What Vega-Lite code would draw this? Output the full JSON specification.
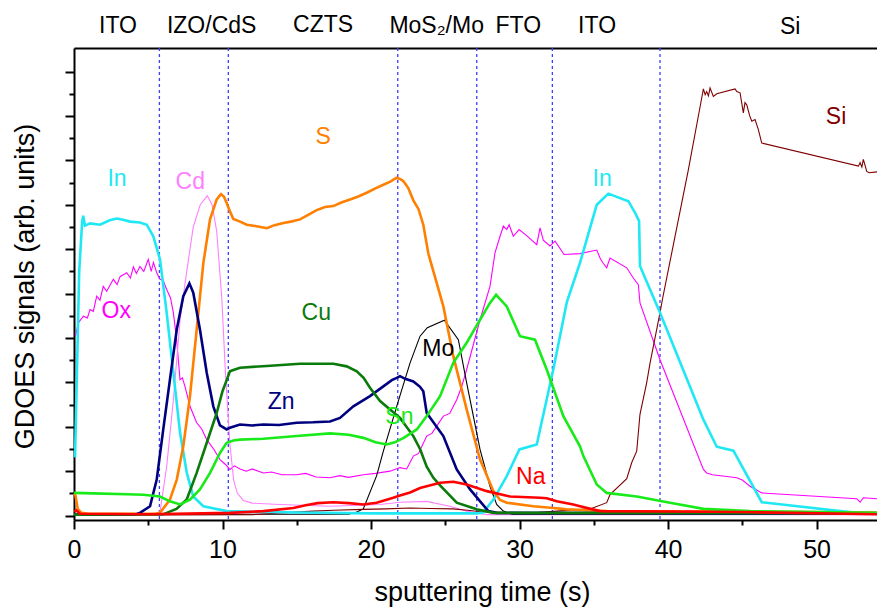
{
  "$schema": "https://vega.github.io/schema/vega-lite/v6.json",
  "width": 803,
  "height": 472,
  "autosize": {"type": "none"},
  "padding": {"left": 74, "top": 48, "right": 0, "bottom": 87},
  "config": {"view": {"stroke": null}, "font": "Liberation Sans"},
  "datasets": {
    "curves": [
      {"s":"In","x":0.07,"y":1.31},{"s":"In","x":0.35,"y":5.5},{"s":"In","x":0.55,"y":6.62},{"s":"In","x":0.62,"y":6.75},{"s":"In","x":0.74,"y":6.53},{"s":"In","x":1.08,"y":6.58},{"s":"In","x":1.75,"y":6.55},{"s":"In","x":2.4,"y":6.65},{"s":"In","x":2.88,"y":6.69},{"s":"In","x":3.3,"y":6.66},{"s":"In","x":3.77,"y":6.62},{"s":"In","x":4.44,"y":6.6},{"s":"In","x":4.9,"y":6.55},{"s":"In","x":5.34,"y":6.29},{"s":"In","x":5.79,"y":5.77},{"s":"In","x":6.24,"y":4.57},{"s":"In","x":6.69,"y":3.22},{"s":"In","x":7.14,"y":1.87},{"s":"In","x":7.59,"y":0.97},{"s":"In","x":8.03,"y":0.43},{"s":"In","x":8.71,"y":0.21},{"s":"In","x":10.28,"y":0.1},{"s":"In","x":15,"y":0.07},{"s":"In","x":20,"y":0.05},{"s":"In","x":27.12,"y":0.05},{"s":"In","x":27.56,"y":0.07},{"s":"In","x":28.24,"y":0.36},{"s":"In","x":29.14,"y":0.89},{"s":"In","x":29.99,"y":1.49},{"s":"In","x":31.16,"y":1.6},{"s":"In","x":32.28,"y":3.3},{"s":"In","x":33.18,"y":4.8},{"s":"In","x":34.07,"y":5.69},{"s":"In","x":35.2,"y":7.0},{"s":"In","x":35.98,"y":7.25},{"s":"In","x":37.33,"y":7.08},{"s":"In","x":37.78,"y":6.82},{"s":"In","x":38.05,"y":6.63},{"s":"In","x":38.11,"y":5.62},{"s":"In","x":39.46,"y":4.57},{"s":"In","x":42.38,"y":2.16},{"s":"In","x":43.28,"y":1.55},{"s":"In","x":44.4,"y":1.46},{"s":"In","x":46.31,"y":0.3},{"s":"In","x":52.71,"y":0.06},{"s":"In","x":54.07,"y":0.05},

      {"s":"Ox","x":0.1,"y":4.04},{"s":"Ox","x":0.29,"y":4.34},{"s":"Ox","x":0.63,"y":4.49},{"s":"Ox","x":0.9,"y":4.45},{"s":"Ox","x":1.08,"y":4.64},{"s":"Ox","x":1.3,"y":4.6},{"s":"Ox","x":1.53,"y":4.94},{"s":"Ox","x":1.75,"y":4.85},{"s":"Ox","x":1.97,"y":5.16},{"s":"Ox","x":2.2,"y":5.05},{"s":"Ox","x":2.65,"y":5.32},{"s":"Ox","x":2.9,"y":5.2},{"s":"Ox","x":3.1,"y":5.38},{"s":"Ox","x":3.55,"y":5.47},{"s":"Ox","x":3.8,"y":5.35},{"s":"Ox","x":4.0,"y":5.6},{"s":"Ox","x":4.2,"y":5.45},{"s":"Ox","x":4.44,"y":5.61},{"s":"Ox","x":4.7,"y":5.5},{"s":"Ox","x":5.0,"y":5.77},{"s":"Ox","x":5.2,"y":5.5},{"s":"Ox","x":5.35,"y":5.7},{"s":"Ox","x":5.57,"y":5.47},{"s":"Ox","x":5.79,"y":5.32},{"s":"Ox","x":6.0,"y":5.3},{"s":"Ox","x":6.24,"y":5.09},{"s":"Ox","x":6.5,"y":4.9},{"s":"Ox","x":6.69,"y":4.57},{"s":"Ox","x":6.9,"y":4.0},{"s":"Ox","x":7.14,"y":3.06},{"s":"Ox","x":7.3,"y":3.1},{"s":"Ox","x":7.47,"y":2.91},{"s":"Ox","x":7.81,"y":2.46},{"s":"Ox","x":8.26,"y":2.09},{"s":"Ox","x":8.6,"y":1.95},{"s":"Ox","x":8.94,"y":1.71},{"s":"Ox","x":9.4,"y":1.5},{"s":"Ox","x":9.83,"y":1.26},{"s":"Ox","x":10.2,"y":1.15},{"s":"Ox","x":10.5,"y":1.04},{"s":"Ox","x":10.8,"y":1.12},{"s":"Ox","x":11.18,"y":1.05},{"s":"Ox","x":11.6,"y":1.0},{"s":"Ox","x":12.0,"y":1.05},{"s":"Ox","x":12.75,"y":0.96},{"s":"Ox","x":13.3,"y":0.98},{"s":"Ox","x":14.0,"y":0.92},{"s":"Ox","x":15.0,"y":0.92},{"s":"Ox","x":15.6,"y":0.95},{"s":"Ox","x":16.3,"y":0.87},{"s":"Ox","x":17.24,"y":0.85},{"s":"Ox","x":17.9,"y":0.9},{"s":"Ox","x":18.5,"y":0.86},{"s":"Ox","x":19.48,"y":0.92},{"s":"Ox","x":20.3,"y":0.95},{"s":"Ox","x":21.28,"y":1.0},{"s":"Ox","x":21.95,"y":1.08},{"s":"Ox","x":22.4,"y":1.05},{"s":"Ox","x":22.85,"y":1.34},{"s":"Ox","x":23.2,"y":1.4},{"s":"Ox","x":23.75,"y":1.79},{"s":"Ox","x":24.1,"y":1.85},{"s":"Ox","x":24.87,"y":2.24},{"s":"Ox","x":25.3,"y":2.3},{"s":"Ox","x":25.77,"y":2.61},{"s":"Ox","x":26.1,"y":2.9},{"s":"Ox","x":26.44,"y":3.29},{"s":"Ox","x":27.34,"y":4.41},{"s":"Ox","x":28.01,"y":5.16},{"s":"Ox","x":28.35,"y":5.92},{"s":"Ox","x":28.69,"y":6.29},{"s":"Ox","x":28.91,"y":6.52},{"s":"Ox","x":29.14,"y":6.44},{"s":"Ox","x":29.3,"y":6.55},{"s":"Ox","x":29.58,"y":6.29},{"s":"Ox","x":29.97,"y":6.44},{"s":"Ox","x":30.5,"y":6.3},{"s":"Ox","x":31.16,"y":6.1},{"s":"Ox","x":31.38,"y":6.48},{"s":"Ox","x":31.6,"y":6.2},{"s":"Ox","x":32.05,"y":6.07},{"s":"Ox","x":32.39,"y":6.18},{"s":"Ox","x":33.0,"y":5.88},{"s":"Ox","x":34.07,"y":5.9},{"s":"Ox","x":35.2,"y":5.98},{"s":"Ox","x":35.42,"y":5.8},{"s":"Ox","x":35.6,"y":5.7},{"s":"Ox","x":35.87,"y":5.58},{"s":"Ox","x":36.09,"y":5.8},{"s":"Ox","x":37.22,"y":5.58},{"s":"Ox","x":37.66,"y":5.35},{"s":"Ox","x":38.0,"y":5.2},{"s":"Ox","x":38.11,"y":4.79},{"s":"Ox","x":39.46,"y":3.51},{"s":"Ox","x":42.38,"y":1.04},{"s":"Ox","x":42.6,"y":0.96},{"s":"Ox","x":43.0,"y":0.92},{"s":"Ox","x":44.63,"y":0.85},{"s":"Ox","x":45.0,"y":0.8},{"s":"Ox","x":45.52,"y":0.66},{"s":"Ox","x":46.31,"y":0.51},{"s":"Ox","x":52.71,"y":0.38},{"s":"Ox","x":52.93,"y":0.3},{"s":"Ox","x":53.15,"y":0.4},{"s":"Ox","x":54.07,"y":0.38},

      {"s":"Cd","x":0,"y":0.02},{"s":"Cd","x":5.5,"y":0.03},{"s":"Cd","x":5.8,"y":0.1},{"s":"Cd","x":6.24,"y":1.1},{"s":"Cd","x":6.69,"y":2.6},{"s":"Cd","x":7.14,"y":4.4},{"s":"Cd","x":7.59,"y":5.5},{"s":"Cd","x":8.03,"y":6.5},{"s":"Cd","x":8.5,"y":7.0},{"s":"Cd","x":8.98,"y":7.2},{"s":"Cd","x":9.3,"y":7.0},{"s":"Cd","x":9.61,"y":6.4},{"s":"Cd","x":9.95,"y":4.9},{"s":"Cd","x":10.2,"y":3.2},{"s":"Cd","x":10.5,"y":1.6},{"s":"Cd","x":10.75,"y":0.8},{"s":"Cd","x":11.0,"y":0.5},{"s":"Cd","x":11.4,"y":0.34},{"s":"Cd","x":12,"y":0.28},{"s":"Cd","x":13.87,"y":0.25},{"s":"Cd","x":17.24,"y":0.21},{"s":"Cd","x":20.6,"y":0.25},{"s":"Cd","x":21.95,"y":0.3},{"s":"Cd","x":23.75,"y":0.32},{"s":"Cd","x":25.3,"y":0.21},{"s":"Cd","x":26.44,"y":0.1},{"s":"Cd","x":27.8,"y":0.02},{"s":"Cd","x":54.07,"y":0.02},

      {"s":"S","x":0.0,"y":0.5},{"s":"S","x":0.1,"y":0.45},{"s":"S","x":0.25,"y":0.15},{"s":"S","x":0.5,"y":0.06},{"s":"S","x":1,"y":0.04},{"s":"S","x":5.5,"y":0.04},{"s":"S","x":5.79,"y":0.06},{"s":"S","x":6.46,"y":0.36},{"s":"S","x":6.92,"y":0.81},{"s":"S","x":7.36,"y":1.56},{"s":"S","x":7.81,"y":2.69},{"s":"S","x":8.26,"y":4.19},{"s":"S","x":8.71,"y":5.69},{"s":"S","x":9.16,"y":6.67},{"s":"S","x":9.61,"y":7.12},{"s":"S","x":9.9,"y":7.24},{"s":"S","x":10.1,"y":7.18},{"s":"S","x":10.28,"y":7.04},{"s":"S","x":10.5,"y":6.85},{"s":"S","x":10.73,"y":6.68},{"s":"S","x":11.18,"y":6.62},{"s":"S","x":11.63,"y":6.55},{"s":"S","x":12.2,"y":6.52},{"s":"S","x":12.98,"y":6.47},{"s":"S","x":13.5,"y":6.54},{"s":"S","x":14.1,"y":6.59},{"s":"S","x":14.6,"y":6.62},{"s":"S","x":15.22,"y":6.67},{"s":"S","x":15.8,"y":6.78},{"s":"S","x":16.34,"y":6.88},{"s":"S","x":16.9,"y":6.95},{"s":"S","x":17.46,"y":6.97},{"s":"S","x":18.0,"y":7.05},{"s":"S","x":18.59,"y":7.12},{"s":"S","x":19.1,"y":7.18},{"s":"S","x":19.71,"y":7.27},{"s":"S","x":20.3,"y":7.37},{"s":"S","x":20.83,"y":7.45},{"s":"S","x":21.3,"y":7.52},{"s":"S","x":21.73,"y":7.61},{"s":"S","x":22.0,"y":7.57},{"s":"S","x":22.18,"y":7.53},{"s":"S","x":22.5,"y":7.38},{"s":"S","x":22.85,"y":7.1},{"s":"S","x":23.2,"y":6.9},{"s":"S","x":23.52,"y":6.55},{"s":"S","x":23.86,"y":5.9},{"s":"S","x":24.42,"y":5.24},{"s":"S","x":24.87,"y":4.71},{"s":"S","x":25.54,"y":3.59},{"s":"S","x":26.44,"y":2.39},{"s":"S","x":27.34,"y":1.26},{"s":"S","x":27.8,"y":0.9},{"s":"S","x":28.24,"y":0.55},{"s":"S","x":28.69,"y":0.35},{"s":"S","x":29.14,"y":0.29},{"s":"S","x":30.93,"y":0.21},{"s":"S","x":32.28,"y":0.17},{"s":"S","x":33.18,"y":0.14},{"s":"S","x":35.87,"y":0.1},{"s":"S","x":54.07,"y":0.07},

      {"s":"Zn","x":0,"y":0.02},{"s":"Zn","x":4.2,"y":0.03},{"s":"Zn","x":4.44,"y":0.06},{"s":"Zn","x":5.12,"y":0.21},{"s":"Zn","x":5.57,"y":0.81},{"s":"Zn","x":6.01,"y":1.94},{"s":"Zn","x":6.46,"y":3.06},{"s":"Zn","x":6.92,"y":4.19},{"s":"Zn","x":7.36,"y":4.94},{"s":"Zn","x":7.77,"y":5.23},{"s":"Zn","x":8.03,"y":5.02},{"s":"Zn","x":8.48,"y":4.19},{"s":"Zn","x":8.94,"y":3.21},{"s":"Zn","x":9.38,"y":2.46},{"s":"Zn","x":9.83,"y":2.03},{"s":"Zn","x":10.28,"y":1.94},{"s":"Zn","x":10.5,"y":1.98},{"s":"Zn","x":11.18,"y":2.05},{"s":"Zn","x":12.0,"y":2.03},{"s":"Zn","x":12.75,"y":2.05},{"s":"Zn","x":13.8,"y":2.04},{"s":"Zn","x":15.0,"y":2.09},{"s":"Zn","x":16.1,"y":2.1},{"s":"Zn","x":17.24,"y":2.12},{"s":"Zn","x":17.91,"y":2.2},{"s":"Zn","x":18.81,"y":2.46},{"s":"Zn","x":19.93,"y":2.69},{"s":"Zn","x":20.83,"y":2.91},{"s":"Zn","x":21.4,"y":3.05},{"s":"Zn","x":21.73,"y":3.1},{"s":"Zn","x":21.95,"y":3.14},{"s":"Zn","x":22.3,"y":3.08},{"s":"Zn","x":22.85,"y":3.02},{"s":"Zn","x":23.3,"y":2.9},{"s":"Zn","x":23.52,"y":2.8},{"s":"Zn","x":23.75,"y":2.31},{"s":"Zn","x":24.87,"y":1.79},{"s":"Zn","x":25.77,"y":1.04},{"s":"Zn","x":26.67,"y":0.59},{"s":"Zn","x":27.9,"y":0.1},{"s":"Zn","x":28.46,"y":0.06},{"s":"Zn","x":54.07,"y":0.04},

      {"s":"Cu","x":0,"y":0.02},{"s":"Cu","x":6.0,"y":0.03},{"s":"Cu","x":6.24,"y":0.06},{"s":"Cu","x":6.9,"y":0.15},{"s":"Cu","x":7.59,"y":0.36},{"s":"Cu","x":8.26,"y":0.96},{"s":"Cu","x":8.94,"y":1.64},{"s":"Cu","x":9.61,"y":2.31},{"s":"Cu","x":10.0,"y":2.8},{"s":"Cu","x":10.28,"y":3.05},{"s":"Cu","x":10.5,"y":3.25},{"s":"Cu","x":10.73,"y":3.28},{"s":"Cu","x":11.18,"y":3.33},{"s":"Cu","x":12.98,"y":3.37},{"s":"Cu","x":15.22,"y":3.42},{"s":"Cu","x":17.46,"y":3.42},{"s":"Cu","x":18.36,"y":3.36},{"s":"Cu","x":19.04,"y":3.25},{"s":"Cu","x":19.5,"y":3.1},{"s":"Cu","x":19.93,"y":2.88},{"s":"Cu","x":20.61,"y":2.58},{"s":"Cu","x":21.28,"y":2.39},{"s":"Cu","x":21.95,"y":2.2},{"s":"Cu","x":22.85,"y":1.79},{"s":"Cu","x":23.3,"y":1.5},{"s":"Cu","x":23.75,"y":1.1},{"s":"Cu","x":24.2,"y":0.85},{"s":"Cu","x":24.65,"y":0.68},{"s":"Cu","x":25.77,"y":0.29},{"s":"Cu","x":27.12,"y":0.14},{"s":"Cu","x":28.24,"y":0.06},{"s":"Cu","x":54.07,"y":0.05},

      {"s":"Sn","x":0,"y":0.51},{"s":"Sn","x":1.3,"y":0.5},{"s":"Sn","x":3.55,"y":0.48},{"s":"Sn","x":4.67,"y":0.47},{"s":"Sn","x":5.79,"y":0.43},{"s":"Sn","x":6.46,"y":0.32},{"s":"Sn","x":7.14,"y":0.25},{"s":"Sn","x":7.81,"y":0.36},{"s":"Sn","x":8.48,"y":0.59},{"s":"Sn","x":9.16,"y":0.96},{"s":"Sn","x":9.83,"y":1.41},{"s":"Sn","x":10.28,"y":1.64},{"s":"Sn","x":10.73,"y":1.69},{"s":"Sn","x":11.18,"y":1.71},{"s":"Sn","x":12.75,"y":1.73},{"s":"Sn","x":15.0,"y":1.79},{"s":"Sn","x":17.24,"y":1.85},{"s":"Sn","x":18.5,"y":1.82},{"s":"Sn","x":19.48,"y":1.75},{"s":"Sn","x":20.3,"y":1.65},{"s":"Sn","x":21.06,"y":1.6},{"s":"Sn","x":21.6,"y":1.65},{"s":"Sn","x":22.2,"y":1.75},{"s":"Sn","x":23.08,"y":1.94},{"s":"Sn","x":23.75,"y":2.24},{"s":"Sn","x":24.65,"y":2.69},{"s":"Sn","x":25.54,"y":3.44},{"s":"Sn","x":26.44,"y":3.89},{"s":"Sn","x":27.34,"y":4.41},{"s":"Sn","x":28.01,"y":4.79},{"s":"Sn","x":28.42,"y":4.97},{"s":"Sn","x":29.14,"y":4.71},{"s":"Sn","x":30.03,"y":4.04},{"s":"Sn","x":31.04,"y":3.96},{"s":"Sn","x":31.83,"y":3.29},{"s":"Sn","x":32.95,"y":2.24},{"s":"Sn","x":34.07,"y":1.56},{"s":"Sn","x":34.3,"y":1.34},{"s":"Sn","x":35.2,"y":0.7},{"s":"Sn","x":35.87,"y":0.51},{"s":"Sn","x":37.89,"y":0.43},{"s":"Sn","x":40.13,"y":0.29},{"s":"Sn","x":42.38,"y":0.15},{"s":"Sn","x":45.52,"y":0.1},{"s":"Sn","x":54.07,"y":0.06},

      {"s":"Mo","x":0,"y":0.03},{"s":"Mo","x":18.5,"y":0.03},{"s":"Mo","x":19.04,"y":0.08},{"s":"Mo","x":19.48,"y":0.15},{"s":"Mo","x":20.38,"y":0.9},{"s":"Mo","x":20.83,"y":1.45},{"s":"Mo","x":21.5,"y":2.2},{"s":"Mo","x":21.95,"y":2.7},{"s":"Mo","x":22.63,"y":3.44},{"s":"Mo","x":23.3,"y":4.04},{"s":"Mo","x":23.79,"y":4.23},{"s":"Mo","x":24.94,"y":4.4},{"s":"Mo","x":25.88,"y":3.96},{"s":"Mo","x":26.44,"y":2.99},{"s":"Mo","x":27.34,"y":1.49},{"s":"Mo","x":28.01,"y":0.66},{"s":"Mo","x":28.46,"y":0.25},{"s":"Mo","x":28.91,"y":0.1},{"s":"Mo","x":29.5,"y":0.03},{"s":"Mo","x":54.07,"y":0.03},

      {"s":"Na","x":0,"y":0.1},{"s":"Na","x":0.15,"y":0.12},{"s":"Na","x":0.4,"y":0.04},{"s":"Na","x":5,"y":0.03},{"s":"Na","x":10.5,"y":0.06},{"s":"Na","x":12.75,"y":0.1},{"s":"Na","x":14.77,"y":0.17},{"s":"Na","x":15.6,"y":0.23},{"s":"Na","x":16.4,"y":0.28},{"s":"Na","x":17.46,"y":0.3},{"s":"Na","x":18.5,"y":0.28},{"s":"Na","x":19.48,"y":0.25},{"s":"Na","x":20.38,"y":0.29},{"s":"Na","x":21.5,"y":0.4},{"s":"Na","x":21.95,"y":0.45},{"s":"Na","x":22.63,"y":0.52},{"s":"Na","x":23.3,"y":0.62},{"s":"Na","x":24.2,"y":0.7},{"s":"Na","x":24.65,"y":0.74},{"s":"Na","x":25.54,"y":0.76},{"s":"Na","x":26.44,"y":0.7},{"s":"Na","x":27.8,"y":0.55},{"s":"Na","x":29.36,"y":0.43},{"s":"Na","x":31.38,"y":0.4},{"s":"Na","x":31.83,"y":0.39},{"s":"Na","x":32.5,"y":0.32},{"s":"Na","x":33.62,"y":0.25},{"s":"Na","x":34.07,"y":0.21},{"s":"Na","x":35.42,"y":0.1},{"s":"Na","x":40,"y":0.09},{"s":"Na","x":45,"y":0.08},{"s":"Na","x":54.07,"y":0.03},

      {"s":"Si","x":0,"y":0.01},{"s":"Si","x":12,"y":0.02},{"s":"Si","x":14,"y":0.06},{"s":"Si","x":16.1,"y":0.1},{"s":"Si","x":17.5,"y":0.12},{"s":"Si","x":19.48,"y":0.14},{"s":"Si","x":21,"y":0.15},{"s":"Si","x":22.63,"y":0.17},{"s":"Si","x":24,"y":0.16},{"s":"Si","x":25.5,"y":0.15},{"s":"Si","x":26.5,"y":0.12},{"s":"Si","x":27.57,"y":0.08},{"s":"Si","x":30.93,"y":0.06},{"s":"Si","x":32.5,"y":0.1},{"s":"Si","x":34.75,"y":0.15},{"s":"Si","x":35.87,"y":0.29},{"s":"Si","x":36.09,"y":0.47},{"s":"Si","x":37.22,"y":0.83},{"s":"Si","x":37.55,"y":1.19},{"s":"Si","x":37.89,"y":1.45},{"s":"Si","x":38.11,"y":2.28},{"s":"Si","x":38.56,"y":2.99},{"s":"Si","x":38.79,"y":3.44},{"s":"Si","x":39.46,"y":4.57},{"s":"Si","x":39.64,"y":4.9},{"s":"Si","x":41.37,"y":7.79},{"s":"Si","x":42.27,"y":9.41},{"s":"Si","x":42.38,"y":9.61},{"s":"Si","x":42.5,"y":9.48},{"s":"Si","x":42.6,"y":9.55},{"s":"Si","x":42.72,"y":9.45},{"s":"Si","x":42.83,"y":9.63},{"s":"Si","x":43.05,"y":9.44},{"s":"Si","x":43.28,"y":9.5},{"s":"Si","x":44.51,"y":9.61},{"s":"Si","x":44.63,"y":9.55},{"s":"Si","x":44.85,"y":9.52},{"s":"Si","x":45.07,"y":9.07},{"s":"Si","x":45.18,"y":9.3},{"s":"Si","x":45.3,"y":9.25},{"s":"Si","x":45.5,"y":9.0},{"s":"Si","x":45.64,"y":8.88},{"s":"Si","x":45.86,"y":8.92},{"s":"Si","x":46.08,"y":8.69},{"s":"Si","x":46.31,"y":8.39},{"s":"Si","x":52.82,"y":7.87},{"s":"Si","x":52.93,"y":7.95},{"s":"Si","x":53.05,"y":7.85},{"s":"Si","x":53.15,"y":8.02},{"s":"Si","x":53.38,"y":7.75},{"s":"Si","x":53.54,"y":7.72},{"s":"Si","x":54.07,"y":7.74}
    ],
    "labels": [
      {"s":"In","t":"In","x":2.9,"y":7.42},
      {"s":"Cd","t":"Cd","x":7.83,"y":7.36},
      {"s":"S","t":"S","x":16.77,"y":8.36},
      {"s":"Ox","t":"Ox","x":2.84,"y":4.45},
      {"s":"Cu","t":"Cu","x":16.31,"y":4.41},
      {"s":"Zn","t":"Zn","x":13.95,"y":2.39},
      {"s":"Sn","t":"Sn","x":21.91,"y":2.07},
      {"s":"Mo","t":"Mo","x":24.53,"y":3.6},
      {"s":"Na","t":"Na","x":30.76,"y":0.7},
      {"s":"In","t":"In","x":35.56,"y":7.43},
      {"s":"Si","t":"Si","x":51.31,"y":8.81}
    ],
    "regions": [
      {"t":"ITO","x":2.96,"y":10.87},
      {"t":"IZO/CdS","x":9.27,"y":10.87},
      {"t":"CZTS","x":16.77,"y":10.9},
      {"t":"MoS₂/Mo","x":24.42,"y":10.87},
      {"t":"FTO","x":29.92,"y":10.87},
      {"t":"ITO","x":35.22,"y":10.87},
      {"t":"Si","x":48.22,"y":10.85}
    ],
    "bounds": [
      {"x":5.75},{"x":10.39},{"x":21.8},{"x":27.12},{"x":32.21},{"x":39.46}
    ]
  },
  "layer": [
    {
      "data": {"name": "bounds"},
      "mark": {"type": "rule", "color": "#3d3dff", "strokeWidth": 1.3, "strokeDash": [3, 3]},
      "encoding": {
        "x": {"field": "x", "type": "quantitative", "scale": {"domain": [0, 54.07], "nice": false, "zero": false},
          "axis": {"orient": "top", "labels": false, "ticks": false, "title": null, "grid": false, "domainColor": "black", "domainWidth": 2}}
      }
    },
    {
      "data": {"name": "curves"},
      "transform": [{"filter": "indexof(['Ox','Cd','Mo','Si'], datum.s) >= 0"}],
      "mark": {"type": "line", "strokeWidth": 1.1, "interpolate": "linear"},
      "encoding": {
        "x": {"field": "x", "type": "quantitative", "axis": null},
        "y": {"field": "y", "type": "quantitative", "axis": null},
        "color": {"field": "s", "type": "nominal", "legend": null,
          "scale": {"domain": ["In","Ox","Cd","S","Zn","Cu","Sn","Mo","Na","Si"],
                    "range": ["#1fe8f4","#ff00ff","#ff80ff","#ff7f00","#00007f","#0a7a0a","#19ea19","#000000","#ff0000","#7f0000"]}}
      }
    },
    {
      "data": {"name": "curves"},
      "transform": [{"filter": "indexof(['Ox','Cd','Mo','Si'], datum.s) < 0"}],
      "mark": {"type": "line", "strokeWidth": 2.6, "interpolate": "linear"},
      "encoding": {
        "x": {"field": "x", "type": "quantitative",
          "axis": {"orient": "bottom", "values": [0,5,10,15,20,25,30,35,40,45,50],
            "labelExpr": "datum.value % 10 === 0 ? datum.label : ''",
            "tickSize": {"condition": {"test": "datum.value % 10 === 0", "value": 9}, "value": 5},
            "tickWidth": 2, "tickColor": "black", "domainColor": "black", "domainWidth": 2,
            "labelFontSize": 25, "labelColor": "black", "labelPadding": 8, "labelFont": "Liberation Sans",
            "labelFlush": false, "labelOverlap": false, "grid": false,
            "title": "sputtering time (s)", "titleFontSize": 27, "titleFontWeight": "normal", "titleColor": "black",
            "titleFont": "Liberation Sans", "titleX": 408, "titleY": 80, "titleBaseline": "alphabetic", "titleAlign": "center"}},
        "y": {"field": "y", "type": "quantitative", "scale": {"domain": [-0.1, 10.53], "nice": false, "zero": false},
          "axis": {"orient": "left", "values": [0,0.5,1,1.5,2,2.5,3,3.5,4,4.5,5,5.5,6,6.5,7,7.5,8,8.5,9,9.5,10],
            "labels": false,
            "tickSize": {"condition": {"test": "datum.value % 1 === 0", "value": 9}, "value": 5},
            "tickWidth": 2, "tickColor": "black", "domainColor": "black", "domainWidth": 2, "grid": false,
            "title": "GDOES signals (arb. units)", "titleFontSize": 27, "titleFontWeight": "normal", "titleColor": "black",
            "titleFont": "Liberation Sans", "titleX": -41, "titleY": 238, "titleAngle": -90, "titleBaseline": "alphabetic", "titleAlign": "center"}},
        "color": {"field": "s", "type": "nominal", "legend": null}
      }
    },
    {
      "data": {"name": "labels"},
      "mark": {"type": "text", "fontSize": 23, "align": "center", "baseline": "alphabetic", "font": "Liberation Sans"},
      "encoding": {
        "x": {"field": "x", "type": "quantitative", "axis": null},
        "y": {"field": "y", "type": "quantitative", "axis": null},
        "text": {"field": "t"},
        "color": {"field": "s", "type": "nominal", "legend": null}
      }
    },
    {
      "data": {"name": "regions"},
      "mark": {"type": "text", "fontSize": 23, "align": "center", "baseline": "alphabetic", "color": "black", "font": "Liberation Sans"},
      "encoding": {
        "x": {"field": "x", "type": "quantitative", "axis": null},
        "y": {"field": "y", "type": "quantitative", "axis": null},
        "text": {"field": "t"}
      }
    }
  ],
  "resolve": {"axis": {"x": "independent", "y": "independent"}}
}
